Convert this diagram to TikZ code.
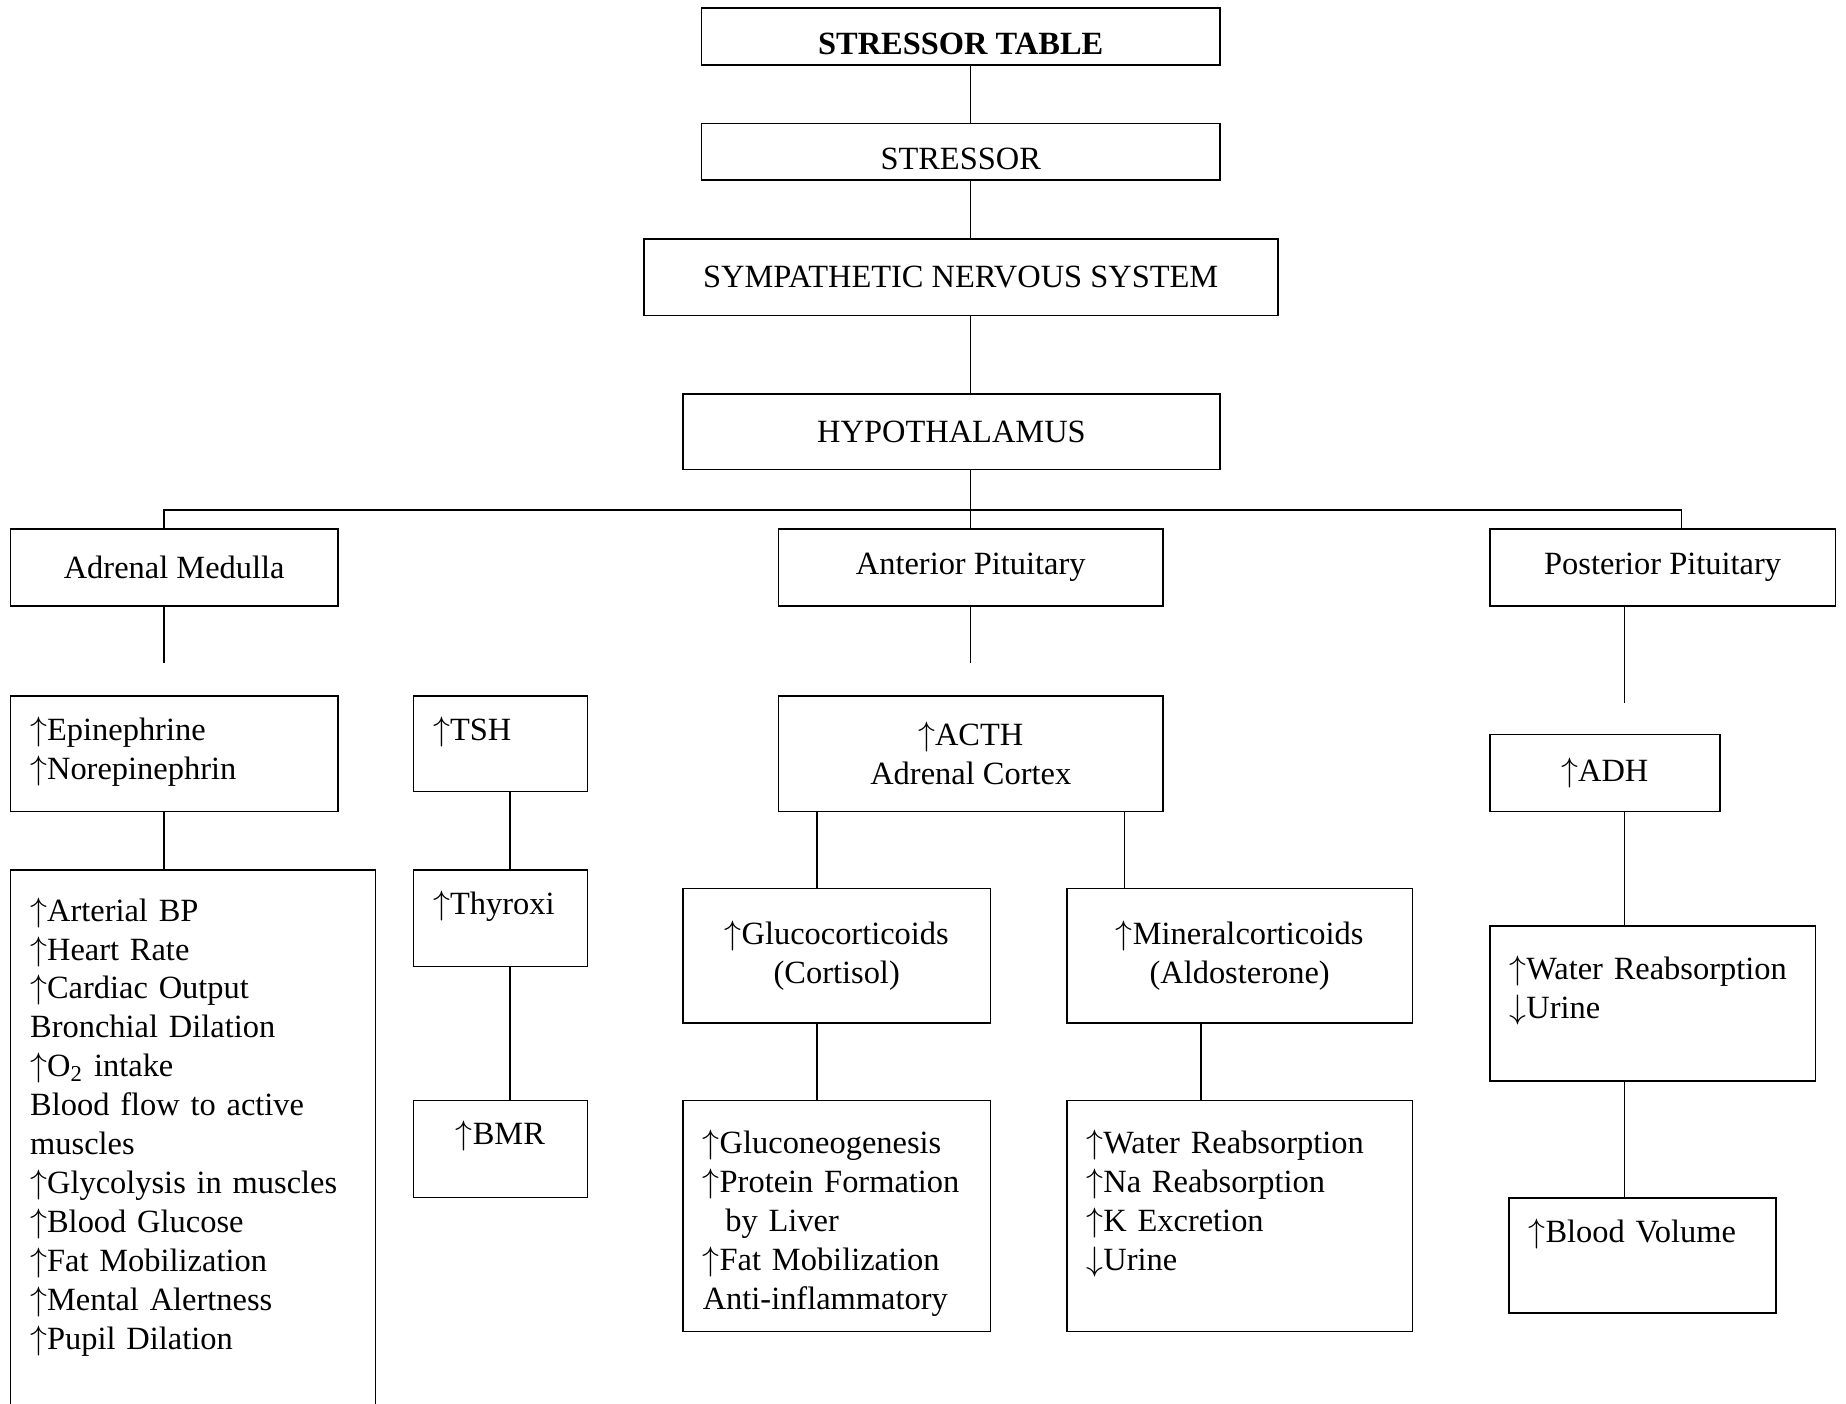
\documentclass[tikz,border=0pt]{standalone}
\usepackage{fontspec}
\setmainfont{Liberation Serif}
\usetikzlibrary{calc}

\begin{document}
\begin{tikzpicture}[line width=0.6pt,
        every node/.style={font=\fontsize{11.5}{13.8}\selectfont, outer sep=0pt},
        box/.style={draw, anchor=north west, inner sep=0pt, align=center},
        listbox/.style n args={3}{draw, anchor=north west, inner xsep=7pt, inner ysep=0pt, align=left,
            text width=#1-14pt, text height=#3, text depth=#2-#3}]
    \useasboundingbox (0,0) rectangle (23,-17.49);
    \coordinate (spine) at (12.09,0); \coordinate (barL) at (2.04,-6.35); \coordinate (barR) at (20.95,-6.35);
    \coordinate (thyx) at (6.35,0); \coordinate (glx) at (10.18,0); \coordinate (mnx) at (14.01,0); \coordinate (mnEx) at (14.96,0);
    \coordinate (amEnd) at (2.04,-8.26); \coordinate (apEnd) at (12.09,-8.26); \coordinate (ppEnd) at (20.24,-8.76);

    \node[box, minimum width=6.46cm, minimum height=0.71cm, text height=12.6pt, text depth=0pt, font=\fontsize{11.5}{13.8}\selectfont\bfseries] (title) at (8.74,-0.10) {STRESSOR TABLE};
    \node[box, minimum width=6.46cm, minimum height=0.70cm, text height=12.6pt, text depth=0pt] (stressor) at (8.74,-1.54) {STRESSOR};
    \node[box, minimum width=7.90cm, minimum height=0.95cm] (sns) at (8.02,-2.98) {SYMPATHETIC NERVOUS SYSTEM};
    \node[box, minimum width=6.69cm, minimum height=0.94cm] (hypo) at (8.51,-4.91) {HYPOTHALAMUS};
    \node[box, minimum width=4.08cm, minimum height=0.96cm] (am) at (0.13,-6.59) {Adrenal Medulla};
    \node[box, minimum width=4.79cm, minimum height=0.96cm] (ap) at (9.70,-6.59) {Anterior Pituitary};
    \node[box, minimum width=4.31cm, minimum height=0.96cm] (pp) at (18.56,-6.59) {Posterior Pituitary};

    \node[listbox={4.08cm}{1.44cm}{15.7pt}] (epi) at (0.13,-8.67) {$\uparrow$Epinephrine\\$\uparrow$Norepinephrin};
    \node[listbox={2.17cm}{1.19cm}{15.7pt}] (tsh) at (5.15,-8.67) {$\uparrow$TSH};
    \node[box, minimum width=4.79cm, minimum height=1.44cm] (acth) at (9.70,-8.67) {$\uparrow$ACTH\\Adrenal Cortex};
    \node[box, minimum width=2.87cm, minimum height=0.96cm] (adh) at (18.56,-9.15) {$\uparrow$ADH};

    \node[listbox={4.55cm}{7.20cm}{18.1pt}] (effects) at (0.13,-10.84) {$\uparrow$Arterial BP\\$\uparrow$Heart Rate\\$\uparrow$Cardiac Output\\Bronchial Dilation\\$\uparrow$O\textsubscript{2} intake\\Blood flow to active\\muscles\\$\uparrow$Glycolysis in muscles\\$\uparrow$Blood Glucose\\$\uparrow$Fat Mobilization\\$\uparrow$Mental Alertness\\$\uparrow$Pupil Dilation};
    \node[listbox={2.17cm}{1.20cm}{15.7pt}] (thyroxi) at (5.15,-10.84) {$\uparrow$Thyroxi};
    \node[listbox={2.17cm}{1.21cm}{15.7pt}, align=center] (bmr) at (5.15,-13.71) {$\uparrow$BMR};
    \node[box, minimum width=3.83cm, minimum height=1.68cm] (gluco) at (8.51,-11.07) {$\uparrow$Glucocorticoids\\(Cortisol)};
    \node[box, minimum width=4.31cm, minimum height=1.68cm] (mineral) at (13.29,-11.07) {$\uparrow$Mineralcorticoids\\(Aldosterone)};
    \node[listbox={3.83cm}{2.88cm}{19pt}] (glucoEff) at (8.51,-13.71) {$\uparrow$Gluconeogenesis\\$\uparrow$Protein Formation\\\hspace*{8pt}by Liver\\$\uparrow$Fat Mobilization\\Anti-inflammatory};
    \node[listbox={4.31cm}{2.88cm}{19pt}] (minEff) at (13.29,-13.71) {$\uparrow$Water Reabsorption\\$\uparrow$Na Reabsorption\\$\uparrow$K Excretion\\$\downarrow$Urine};
    \node[listbox={4.06cm}{1.93cm}{19pt}] (water) at (18.56,-11.54) {$\uparrow$Water Reabsorption\\$\downarrow$Urine};
    \node[listbox={3.33cm}{1.43cm}{15.7pt}] (blood) at (18.80,-14.93) {$\uparrow$Blood Volume};

    \draw (spine |- title.south) -- (spine |- stressor.north);
    \draw (spine |- stressor.south) -- (spine |- sns.north);
    \draw (spine |- sns.south) -- (spine |- hypo.north);
    \draw (spine |- hypo.south) -- (spine |- ap.north);
    \draw (barL |- am.north) -- (barL) -- (barR) -- (barR |- pp.north);
    \draw (barL |- am.south) -- (amEnd);
    \draw (spine |- ap.south) -- (apEnd);
    \draw (ppEnd |- pp.south) -- (ppEnd);
    \draw (barL |- epi.south) -- (barL |- effects.north);
    \draw (thyx |- tsh.south) -- (thyx |- thyroxi.north);
    \draw (thyx |- thyroxi.south) -- (thyx |- bmr.north);
    \draw (glx |- acth.south) -- (glx |- gluco.north);
    \draw (mnx |- acth.south) -- (mnx |- mineral.north);
    \draw (glx |- gluco.south) -- (glx |- glucoEff.north);
    \draw (mnEx |- mineral.south) -- (mnEx |- minEff.north);
    \draw (ppEnd |- adh.south) -- (ppEnd |- water.north);
    \draw (ppEnd |- water.south) -- (ppEnd |- blood.north);
\end{tikzpicture}
\end{document}
